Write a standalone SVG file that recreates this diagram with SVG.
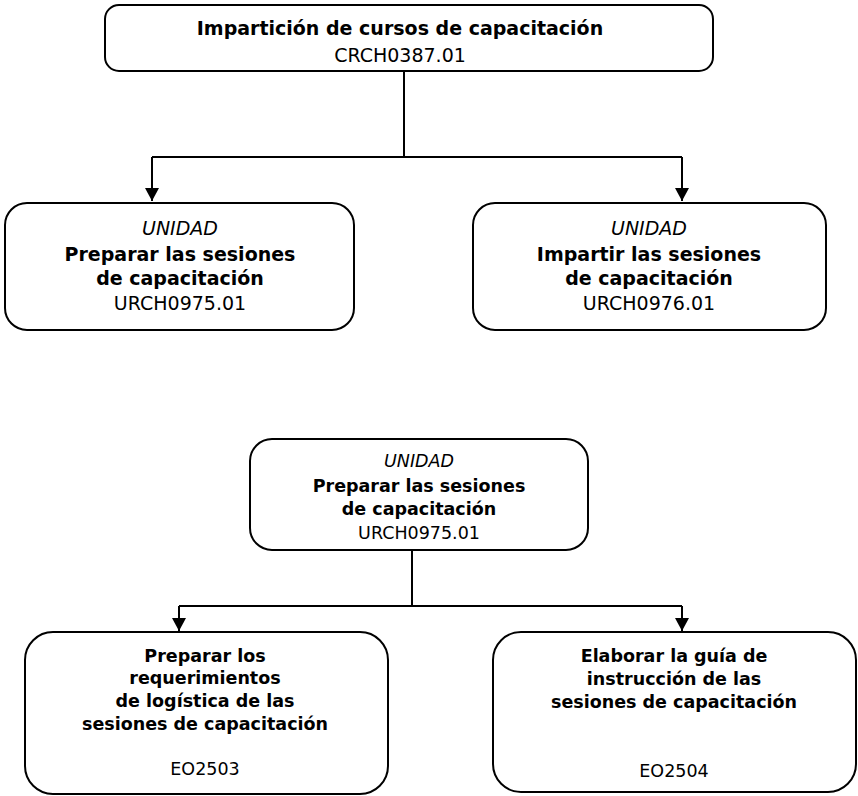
<svg xmlns="http://www.w3.org/2000/svg" width="858" height="796" viewBox="0 0 858 796">
  <style>
    .box { fill: #fff; stroke: #000; stroke-width: 2; }
    .wire { fill: none; stroke: #000; stroke-width: 2; }
    .t { font-family: "DejaVu Sans", Verdana, sans-serif; fill: #000; text-anchor: middle; }
    .b { font-weight: bold; }
    .i { font-style: italic; }
    .l { font-size: 19px; }
    .s { font-size: 17.5px; }
  </style>
  <defs>
    <marker id="arrow" markerUnits="userSpaceOnUse" markerWidth="14" markerHeight="14" viewBox="0 0 13 14" refX="13" refY="7" orient="auto">
      <path d="M0,0 L13,7 L0,14 Z" fill="#000"/>
    </marker>
  </defs>
  <rect width="858" height="796" fill="#fff"/>

  <!-- connectors -->
  <g id="connectors">
    <path class="wire" d="M404,71 V157 M152,157 H682"/>
    <path class="wire" d="M152,157 V201" marker-end="url(#arrow)"/>
    <path class="wire" d="M682,157 V201" marker-end="url(#arrow)"/>
    <path class="wire" d="M412,550 V606 M179,606 H682"/>
    <path class="wire" d="M179,606 V631" marker-end="url(#arrow)"/>
    <path class="wire" d="M682,606 V631" marker-end="url(#arrow)"/>
  </g>

  <!-- competency standard -->
  <g id="crch0387">
    <rect class="box" x="105" y="5" width="608" height="66" rx="14"/>
    <text class="t b l" x="400" y="35">Impartición de cursos de capacitación</text>
    <text class="t l" x="400" y="62">CRCH0387.01</text>
  </g>

  <!-- units -->
  <g id="urch0975">
    <rect class="box" x="5" y="203" width="349" height="127" rx="22"/>
    <text class="t i l" x="180" y="235">UNIDAD</text>
    <text class="t b l" x="180" y="261">Preparar las sesiones</text>
    <text class="t b l" x="180" y="285">de capacitación</text>
    <text class="t l" x="180" y="310">URCH0975.01</text>
  </g>
  <g id="urch0976">
    <rect class="box" x="473" y="203" width="353" height="127" rx="22"/>
    <text class="t i l" x="649" y="235">UNIDAD</text>
    <text class="t b l" x="649" y="261">Impartir las sesiones</text>
    <text class="t b l" x="649" y="285">de capacitación</text>
    <text class="t l" x="649" y="310">URCH0976.01</text>
  </g>

  <!-- unit breakdown -->
  <g id="urch0975-detail">
    <rect class="box" x="250" y="439" width="338" height="111" rx="22"/>
    <text class="t i s" x="419" y="467">UNIDAD</text>
    <text class="t b s" x="419" y="492">Preparar las sesiones</text>
    <text class="t b s" x="419" y="515">de capacitación</text>
    <text class="t s" x="419" y="539">URCH0975.01</text>
  </g>

  <!-- elements -->
  <g id="eo2503">
    <rect class="box" x="25" y="632" width="363" height="162" rx="28"/>
    <text class="t b s" x="205" y="662">Preparar los</text>
    <text class="t b s" x="205" y="684">requerimientos</text>
    <text class="t b s" x="205" y="707">de logística de las</text>
    <text class="t b s" x="205" y="730">sesiones de capacitación</text>
    <text class="t s" x="205" y="775">EO2503</text>
  </g>
  <g id="eo2504">
    <rect class="box" x="493" y="632" width="363" height="160" rx="28"/>
    <text class="t b s" x="674" y="662">Elaborar la guía de</text>
    <text class="t b s" x="674" y="685">instrucción de las</text>
    <text class="t b s" x="674" y="708">sesiones de capacitación</text>
    <text class="t s" x="674" y="777">EO2504</text>
  </g>
</svg>
